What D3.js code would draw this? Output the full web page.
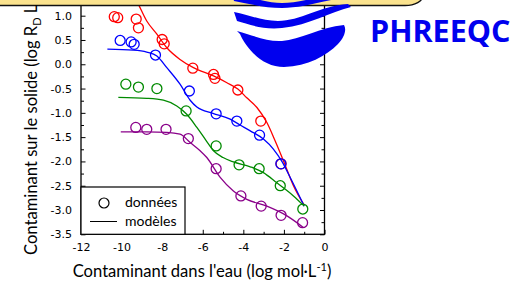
<!DOCTYPE html>
<html>
<head>
<meta charset="utf-8">
<title>PHREEQC</title>
<script src="https://d3js.org/d3.v7.min.js"></script>
<style>
  body { margin: 0; background: #fff; }
  svg { display: block; }
</style>
</head>
<body>
<svg id="chart"></svg>
<script>
// measured points (x = log C eau, y = log RD)
const redData = [[-10.36,0.98],[-10.19,0.96],[-9.28,0.93],[-9.17,0.75],[-8.00,0.51],[-7.90,0.42],
  [-6.49,-0.08],[-5.47,-0.21],[-5.40,-0.29],[-4.27,-0.53],[-3.14,-1.17],[-2.14,-2.05]];
const blueData = [[-10.07,0.49],[-9.53,0.46],[-9.38,0.41],[-8.33,0.19],[-6.66,-0.55],[-5.34,-1.02],
  [-4.32,-1.17],[-3.20,-1.46],[-2.15,-2.05]];
const greenData = [[-9.79,-0.41],[-9.17,-0.47],[-8.26,-0.50],[-6.82,-0.96],[-5.34,-1.68],[-4.21,-2.07],
  [-3.22,-2.15],[-2.18,-2.50],[-1.07,-2.98]];
const purpleData = [[-9.30,-1.30],[-8.76,-1.34],[-7.81,-1.34],[-6.71,-1.53],[-5.34,-2.15],[-4.12,-2.71],
  [-3.12,-2.92],[-2.14,-3.11],[-1.08,-3.26]];

// model curves
const redModel = [[-9.6,1.55],[-9.25,1.30],[-8.76,0.89],[-8.26,0.62],[-7.77,0.34],[-7.12,0.10],[-6.46,-0.07],
  [-5.47,-0.24],[-4.81,-0.38],[-4.27,-0.51],[-3.83,-0.69],[-3.33,-0.89],[-2.84,-1.20],[-2.43,-1.58],
  [-2.02,-1.99],[-1.53,-2.50],[-1.0,-2.90]];
const blueModel = [[-10.70,0.31],[-9.42,0.29],[-8.76,0.25],[-8.26,0.17],[-7.77,-0.07],[-7.12,-0.41],
  [-6.62,-0.74],[-6.29,-0.88],[-5.5,-1.01],[-4.65,-1.13],[-4.16,-1.25],[-3.66,-1.37],[-3.01,-1.54],
  [-2.51,-1.75],[-2.10,-2.00],[-1.69,-2.33],[-1.0,-2.92]];
const greenModel = [[-10.16,-0.68],[-8.76,-0.70],[-7.94,-0.74],[-7.28,-0.86],[-6.79,-1.03],[-6.29,-1.30],
  [-5.85,-1.56],[-5.47,-1.78],[-5.0,-1.92],[-4.49,-2.01],[-3.66,-2.11],[-3.01,-2.23],[-2.35,-2.44],
  [-1.53,-2.71],[-1.0,-2.92]];
const purpleModel = [[-10.04,-1.39],[-8.76,-1.39],[-7.77,-1.40],[-7.12,-1.44],[-6.62,-1.61],[-6.13,-1.78],
  [-5.80,-1.92],[-5.14,-2.33],[-4.49,-2.61],[-3.83,-2.78],[-2.84,-2.92],[-1.85,-3.12],[-1.04,-3.36]];

const xMajor = [-12,-10,-8,-6,-4,-2,0];
const xMinor = [-11,-9,-7,-5,-3,-1];
const yMajor = [-3.5,-3.0,-2.5,-2.0,-1.5,-1.0,-0.5,0.0,0.5,1.0];
const yMinor = [-3.25,-2.75,-2.25,-1.75,-1.25,-0.75,-0.25,0.25,0.75,1.25];

const series = [
  {pts: redData, model: redModel, color: '#ff0000'},
  {pts: blueData, model: blueModel, color: '#0000ff'},
  {pts: greenData, model: greenModel, color: '#008a00'},
  {pts: purpleData, model: purpleModel, color: '#8a008a'}
];

const w = 516, h = 284;
const left = 81, right = 324.5, bottom = 234.3;
let svg = d3.select('#chart').attr('width', w).attr('height', h);

const x = d3.scaleLinear().domain([-12, 0]).range([left, right]);
const y = d3.scaleLinear().domain([-3.5, 1.5]).range([bottom, 15.7 - 0.5*48.6]);
const plotTop = y(1.5);

// axes, ticks pointing inward
function yAxis(vals, size, labels, side) {
  let ax = (side === 'left' ? d3.axisLeft(y) : d3.axisRight(y))
    .tickValues(vals).tickSize(-size).tickSizeOuter(0).tickPadding(side === 'left' ? 9 : 0)
    .tickFormat(labels ? d3.format('.1f') : '');
  let g = svg.append('g').attr('transform', 'translate(' + (side === 'left' ? left : right) + ',0)').call(ax);
  g.select('.domain').remove();
  g.selectAll('text').style('font-family', 'DejaVu Sans').style('font-size', '11px').attr('fill', '#000');
  g.selectAll('line').attr('stroke', '#000');
}
function xAxis(vals, size, labels) {
  let ax = d3.axisBottom(x).tickValues(vals).tickSize(-size).tickSizeOuter(0).tickPadding(9)
    .tickFormat(labels ? d3.format('d') : '');
  let g = svg.append('g').attr('transform', 'translate(0,' + bottom + ')').call(ax);
  g.select('.domain').remove();
  g.selectAll('text').style('font-family', 'DejaVu Sans').style('font-size', '11px').attr('fill', '#000');
  g.selectAll('line').attr('stroke', '#000');
}
yAxis(yMajor, 4.5, true, 'left');
yAxis(yMinor, 3, false, 'left');
yAxis(yMajor, 4.5, false, 'right');
yAxis(yMinor, 3, false, 'right');
xAxis(xMajor, 4.5, true);
xAxis(xMinor, 2.5, false);
svg.selectAll('.tick text').text(function() { return d3.select(this).text().replace('−', '-'); });

svg.append('rect')
  .attr('x', left).attr('y', plotTop)
  .attr('width', right - left).attr('height', bottom - plotTop)
  .style('fill', 'none').style('stroke', '#000').style('stroke-width', 1.3);

let line = d3.line().x(d => x(d[0])).y(d => y(d[1])).curve(d3.curveMonotoneX);

series.forEach(s => {
  svg.append('path')
    .attr('d', line(s.model))
    .style('fill', 'none').style('stroke', s.color).style('stroke-width', 1.3);
  svg.selectAll(null).data(s.pts).enter().append('circle')
    .attr('cx', d => x(d[0])).attr('cy', d => y(d[1])).attr('r', 5)
    .style('fill', 'none').style('stroke', s.color).style('stroke-width', 1.3);
});

// legend
let lg = svg.append('g');
lg.append('rect').attr('x', left).attr('y', 187).attr('width', 104).attr('height', bottom - 187)
  .style('fill', '#fff').style('stroke', '#000').style('stroke-width', 1.2);
lg.append('circle').attr('cx', 104).attr('cy', 203).attr('r', 5)
  .style('fill', 'none').style('stroke', '#000').style('stroke-width', 1.2);
lg.append('line').attr('x1', 90).attr('x2', 117).attr('y1', 221.5).attr('y2', 221.5)
  .style('stroke', '#000').style('stroke-width', 1);
lg.append('text').attr('x', 125).attr('y', 207).text('données');
lg.append('text').attr('x', 125).attr('y', 226).text('modèles');
lg.selectAll('text').style('font-family', 'Lato').style('font-size', '14px');

// banner on top
svg.append('rect').attr('x', -20).attr('y', -30).attr('width', 443).attr('height', 35.5)
  .attr('rx', 18).attr('ry', 10)
  .style('fill', '#fbe38e').style('stroke', '#111').style('stroke-width', 1.3);

// PHREEQC logo
const logoBlue = '#0000ee';
[
  'M232,-6 C255,-2 268,3 282,3 C300,3 320,-4 352,-10 L350,-4 C320,2 300,8 282,8 C265,8 250,4 234,1 Z',
  'M234,12 C250,15 262,21 278,21 C300,21 320,6 348,4 L351,7 C330,12 310,25 282,28 C262,30 248,24 237,21 Z',
  'M237,31 C255,36 268,42 282,41 C300,40 320,27 344,25 C347,30 344,38 338,44 C326,56 308,66 284,67 C262,67 246,48 240,34 Z'
].forEach(p => svg.append('path').attr('d', p).style('fill', logoBlue));

svg.append('text').attr('x', 370).attr('y', 41.7).text('PHREEQC')
  .style('font-family', 'Open Sans').style('font-weight', 'bold').style('font-size', '30.5px')
  .style('fill', logoBlue);

// axis titles
let xt = svg.append('text').attr('x', 202).attr('y', 276.5).attr('text-anchor', 'middle')
  .style('font-family', 'Lato').style('font-size', '16.6px');
xt.append('tspan').text("Contaminant dans l'eau (log mol·L");
xt.append('tspan').attr('dy', -6).style('font-size', '11px').text('-1');
xt.append('tspan').attr('dy', 6).text(')');

let yt = svg.append('text').attr('transform', 'translate(37,255) rotate(-90)')
  .style('font-family', 'Lato').style('font-size', '16.6px');
yt.append('tspan').text('Contaminant sur le solide (log R');
yt.append('tspan').attr('dy', 4).style('font-size', '11px').text('D');
yt.append('tspan').attr('dy', -4).text(' L');
</script>
</body>
</html>
